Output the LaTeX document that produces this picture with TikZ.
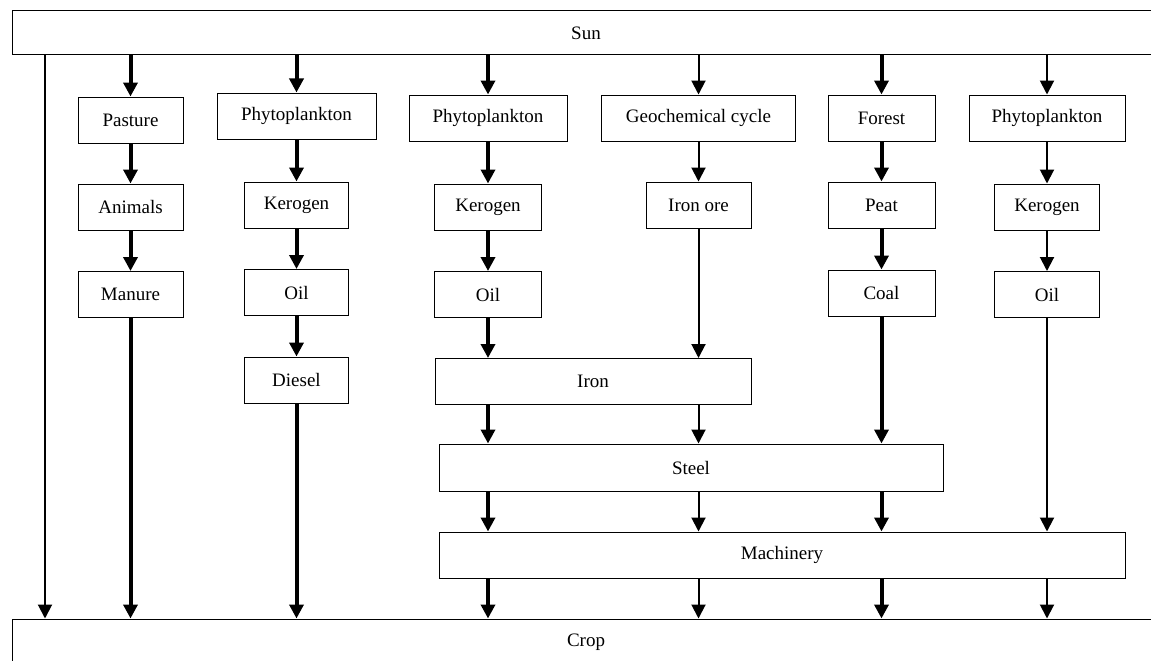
\documentclass[tikz,border=0pt]{standalone}
\usepackage{fontspec}
\setmainfont{Liberation Serif}
\usetikzlibrary{arrows.meta}

\tikzset{
  box/.style={draw, line width=1pt, rectangle, inner sep=0pt,
    minimum height=46pt, font=\fontsize{19}{22}\selectfont},
  heavy/.style={line width=4pt, -{Triangle[width=14pt,length=14pt]}},
  light/.style={line width=2pt, -{Triangle[width=14pt,length=14pt]}},
}

\begin{document}
\begin{tikzpicture}[x=1pt, y=-1pt]
  \clip (0,0) rectangle (1151,661);

  % Sun and crop bands
  \node[box, minimum width=1148pt, minimum height=44pt] (sun) at (586,33) {Sun};
  \node[box, minimum width=1148pt] (crop) at (586,642) {Crop};
  \coordinate (direct) at (45,0);

  % Column 1: pasture
  \node[box, minimum width=105pt] (pasture) at (130.5,120) {Pasture};
  \node[box, minimum width=105pt] (animals) at (130.5,207) {Animals};
  \node[box, minimum width=105pt] (manure)  at (130.5,294.5) {Manure};

  % Column 2: diesel
  \node[box, minimum width=159pt] (phyto2)  at (296.5,116) {Phytoplankton};
  \node[box, minimum width=104pt] (kerogen2) at (296.5,205) {Kerogen};
  \node[box, minimum width=104pt] (oil2)     at (296.5,292.5) {Oil};
  \node[box, minimum width=104pt] (diesel)   at (296.5,380) {Diesel};

  % Column 3: oil for iron
  \node[box, minimum width=158pt] (phyto3)  at (488,118) {Phytoplankton};
  \node[box, minimum width=107pt] (kerogen3) at (488,207) {Kerogen};
  \node[box, minimum width=107pt] (oil3)     at (488,294.5) {Oil};

  % Column 4: iron ore
  \node[box, minimum width=194pt] (geo)    at (698.5,118) {Geochemical cycle};
  \node[box, minimum width=105pt] (ironore) at (698.5,205) {Iron ore};

  % Column 5: coal
  \node[box, minimum width=107pt] (forest) at (881.5,118) {Forest};
  \node[box, minimum width=107pt] (peat)   at (881.5,205) {Peat};
  \node[box, minimum width=107pt] (coal)   at (881.5,293) {Coal};

  % Column 6: oil for machinery
  \node[box, minimum width=156pt] (phyto6)  at (1047,118) {Phytoplankton};
  \node[box, minimum width=105pt] (kerogen6) at (1047,207) {Kerogen};
  \node[box, minimum width=105pt] (oil6)     at (1047,294.5) {Oil};

  % Wide bars
  \node[box, minimum width=316pt] (iron)      at (593,381.5) {Iron};
  \node[box, minimum width=504pt, minimum height=47pt] (steel) at (691,467.5) {Steel};
  \node[box, minimum width=686pt] (machinery) at (782,555) {Machinery};

  % Direct sunlight
  \draw[light] (sun.south -| direct) -- (crop.north -| direct);

  % Column 1
  \draw[heavy] (pasture.north |- sun.south) -- (pasture);
  \draw[heavy] (pasture) -- (animals);
  \draw[heavy] (animals) -- (manure);
  \draw[heavy] (manure) -- (manure |- crop.north);

  % Column 2
  \draw[heavy] (phyto2.north |- sun.south) -- (phyto2);
  \draw[heavy] (phyto2) -- (kerogen2);
  \draw[heavy] (kerogen2) -- (oil2);
  \draw[heavy] (oil2) -- (diesel);
  \draw[heavy] (diesel) -- (diesel |- crop.north);

  % Column 3
  \draw[heavy] (phyto3.north |- sun.south) -- (phyto3);
  \draw[heavy] (phyto3) -- (kerogen3);
  \draw[heavy] (kerogen3) -- (oil3);
  \draw[heavy] (oil3) -- (oil3 |- iron.north);
  \draw[heavy] (iron.south -| oil3) -- (steel.north -| oil3);
  \draw[heavy] (steel.south -| oil3) -- (machinery.north -| oil3);
  \draw[heavy] (machinery.south -| oil3) -- (crop.north -| oil3);

  % Column 4
  \draw[light] (geo.north |- sun.south) -- (geo);
  \draw[light] (geo) -- (ironore);
  \draw[light] (ironore) -- (ironore |- iron.north);
  \draw[light] (iron.south -| ironore) -- (steel.north -| ironore);
  \draw[light] (steel.south -| ironore) -- (machinery.north -| ironore);
  \draw[light] (machinery.south -| ironore) -- (crop.north -| ironore);

  % Column 5
  \draw[heavy] (forest.north |- sun.south) -- (forest);
  \draw[heavy] (forest) -- (peat);
  \draw[heavy] (peat) -- (coal);
  \draw[heavy] (coal) -- (coal |- steel.north);
  \draw[heavy] (steel.south -| coal) -- (machinery.north -| coal);
  \draw[heavy] (machinery.south -| coal) -- (crop.north -| coal);

  % Column 6
  \draw[light] (phyto6.north |- sun.south) -- (phyto6);
  \draw[light] (phyto6) -- (kerogen6);
  \draw[light] (kerogen6) -- (oil6);
  \draw[light] (oil6) -- (oil6 |- machinery.north);
  \draw[light] (machinery.south -| oil6) -- (crop.north -| oil6);
\end{tikzpicture}
\end{document}
